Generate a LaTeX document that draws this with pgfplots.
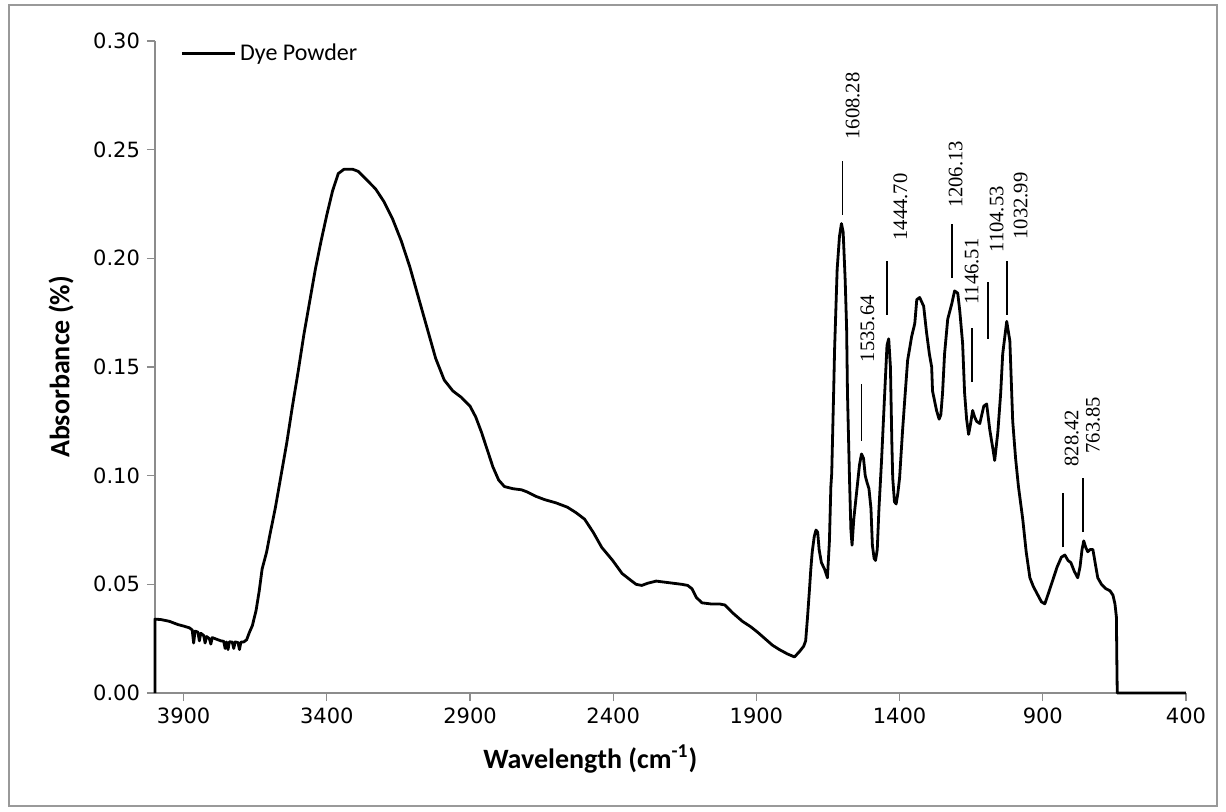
\documentclass[border=0pt]{standalone}
\usepackage{fontspec}
\usepackage{pgfplots}
\pgfplotsset{compat=1.18}
\setmainfont{Carlito}
\newfontfamily\verd{DejaVu Sans}
\newfontfamily\cali{Carlito}
\newfontfamily\tnr{Liberation Serif}

\pgfplotstableread{
x y
4000 0
4000 0.0340
3980 0.0338
3950 0.0330
3920 0.0315
3900 0.0308
3880 0.0300
3870 0.0290
3865 0.0230
3860 0.0285
3850 0.0280
3845 0.0240
3840 0.0275
3830 0.0265
3825 0.0230
3820 0.0260
3810 0.0250
3805 0.0225
3800 0.0255
3790 0.0250
3780 0.0245
3770 0.0240
3760 0.0238
3755 0.0205
3750 0.0235
3745 0.0200
3740 0.0236
3730 0.0234
3725 0.0205
3720 0.0235
3710 0.0232
3705 0.0200
3700 0.0234
3690 0.0235
3680 0.0245
3670 0.0280
3660 0.0310
3647 0.0380
3636 0.0470
3626 0.0570
3610 0.0650
3600 0.0720
3580 0.0850
3560 0.1000
3540 0.1150
3520 0.1320
3500 0.1480
3480 0.1650
3460 0.1800
3440 0.1950
3420 0.2080
3400 0.2200
3380 0.2310
3360 0.2390
3340 0.2410
3310 0.2410
3290 0.2400
3260 0.2360
3230 0.2320
3200 0.2260
3170 0.2180
3140 0.2080
3110 0.1960
3080 0.1820
3050 0.1680
3020 0.1540
2990 0.1440
2960 0.1390
2930 0.1360
2900 0.1320
2880 0.1270
2860 0.1200
2840 0.1120
2820 0.1040
2800 0.0980
2780 0.0950
2750 0.0940
2720 0.0935
2700 0.0925
2670 0.0905
2640 0.0890
2600 0.0875
2560 0.0855
2530 0.0830
2500 0.0800
2470 0.0740
2440 0.0670
2402 0.0610
2369 0.0550
2340 0.0520
2320 0.0500
2300 0.0495
2280 0.0505
2250 0.0515
2220 0.0510
2190 0.0505
2160 0.0500
2140 0.0495
2125 0.0480
2110 0.0440
2090 0.0415
2060 0.0410
2030 0.0410
2010 0.0405
1984 0.0370
1949 0.0330
1920 0.0305
1896 0.0280
1870 0.0250
1844 0.0220
1820 0.0200
1792 0.0180
1767 0.0166
1750 0.0190
1735 0.0215
1728 0.0240
1722 0.0340
1715 0.0470
1710 0.0570
1705 0.0650
1698 0.0720
1692 0.0750
1686 0.0740
1681 0.0660
1673 0.0600
1662 0.0570
1652 0.0530
1645 0.0700
1640 0.0950
1637 0.1010
1630 0.1400
1627 0.1580
1618 0.1950
1610 0.2100
1603 0.2160
1597 0.2120
1590 0.1900
1585 0.1680
1582 0.1380
1575 0.0990
1570 0.0750
1566 0.0680
1560 0.0800
1548 0.0950
1540 0.1050
1533 0.1100
1526 0.1080
1520 0.1000
1514 0.0970
1507 0.0940
1500 0.0850
1495 0.0680
1489 0.0620
1484 0.0610
1478 0.0660
1472 0.0850
1463 0.1070
1452 0.1380
1444 0.1600
1438 0.1630
1432 0.1500
1427 0.1150
1424 0.0990
1418 0.0880
1412 0.0870
1406 0.0920
1400 0.0990
1390 0.1200
1382 0.1350
1372 0.1530
1358 0.1640
1347 0.1700
1340 0.1810
1330 0.1820
1316 0.1780
1306 0.1660
1296 0.1560
1288 0.1500
1285 0.1390
1271 0.1300
1262 0.1260
1256 0.1280
1250 0.1380
1243 0.1560
1232 0.1720
1218 0.1790
1208 0.1850
1197 0.1840
1190 0.1760
1180 0.1610
1173 0.1380
1166 0.1260
1159 0.1190
1152 0.1240
1145 0.1300
1138 0.1270
1131 0.1250
1120 0.1240
1106 0.1320
1096 0.1330
1085 0.1210
1075 0.1130
1068 0.1070
1057 0.1200
1047 0.1380
1040 0.1560
1026 0.1710
1015 0.1620
1005 0.1250
995 0.1080
985 0.0950
970 0.0800
958 0.0650
945 0.0530
933 0.0490
921 0.0460
905 0.0420
893 0.0410
880 0.0460
865 0.0520
850 0.0580
835 0.0625
823 0.0635
812 0.0610
802 0.0600
790 0.0560
778 0.0530
770 0.0580
763 0.0660
757 0.0700
750 0.0670
743 0.0650
735 0.0660
725 0.0660
716 0.0590
708 0.0530
695 0.0500
680 0.0480
665 0.0470
655 0.0450
648 0.0410
643 0.0350
641 0.0100
640 0
400 0
}\spectrum

\begin{document}
\begin{tikzpicture}[x=1pt,y=1pt]
\path[use as bounding box] (-77.5,-59) rectangle (535.5,346.5);
\draw[black!40, line width=0.9pt] (-73,-56.5) rectangle (531,344);
\begin{axis}[
  at={(0,0)}, anchor=south west,
  width=515.5pt, height=326pt, scale only axis,
  xmin=400, xmax=4000, x dir=reverse,
  ymin=0, ymax=0.30,
  clip=false,
  axis x line*=bottom, axis y line*=left,
  axis line style={black!45, line width=0.6pt, -},
  tick style={black!45, line width=0.6pt},
  tick align=outside, major tick length=4pt,
  xtick={400,900,1400,1900,2400,2900,3400,3900},
  ytick={0,0.05,0.10,0.15,0.20,0.25,0.30},
  /pgf/number format/assume math mode=true,
  x tick label style={font=\verd\fontsize{10.5}{12}\selectfont, /pgf/number format/1000 sep={}},
  y tick label style={font=\verd\fontsize{10.5}{12}\selectfont, /pgf/number format/fixed, /pgf/number format/fixed zerofill, /pgf/number format/precision=2},
  xlabel={Wavelength (cm\textsuperscript{-1})},
  ylabel={Absorbance (\%)},
  every axis x label/.style={at={([yshift=-33pt]axis cs:2480,0)}, anchor=center, font=\cali\bfseries\fontsize{14}{16}\selectfont},
  every axis y label/.style={at={([xshift=-47pt]rel axis cs:0,0.5)}, anchor=center, rotate=90, font=\cali\bfseries\fontsize{14}{16}\selectfont},
  legend style={at={(rel axis cs:0,1)}, anchor=north west, draw=none, fill=none, xshift=12.5pt, yshift=1pt,
    font=\cali\fontsize{12}{14}\selectfont, inner sep=0pt},
  legend image code/.code={\draw[black, line width=1.4pt] (0pt,0pt) -- (26.5pt,0pt);},
]
\addplot[black, line width=1.4pt, line join=round] table[x=x, y=y] {\spectrum};
\addlegendentry{Dye Powder}
\begin{scope}[line width=0.8pt]
\draw (axis cs:1600,0.220) -- (axis cs:1600,0.245);
\draw (axis cs:1533,0.116) -- (axis cs:1533,0.142);
\draw (axis cs:1445,0.174) -- (axis cs:1445,0.199);
\draw (axis cs:1218,0.191) -- (axis cs:1218,0.216);
\draw (axis cs:1148,0.143) -- (axis cs:1148,0.168);
\draw (axis cs:1092,0.163) -- (axis cs:1092,0.189);
\draw (axis cs:1026,0.174) -- (axis cs:1026,0.199);
\draw (axis cs:830,0.067) -- (axis cs:830,0.092);
\draw (axis cs:760,0.074) -- (axis cs:760,0.099);
\end{scope}
\begin{scope}[every node/.style={rotate=90, anchor=west, inner sep=0pt, font=\tnr\fontsize{10.3}{12}\selectfont}]
\node at (axis cs:1564,0.2545) {1608.28};
\node at (axis cs:1512,0.152) {1535.64};
\node at (axis cs:1397,0.208) {1444.70};
\node at (axis cs:1204,0.223) {1206.13};
\node at (axis cs:1148,0.1785) {1146.51};
\node at (axis cs:1061,0.2025) {1104.53};
\node at (axis cs:977,0.2085) {1032.99};
\node at (axis cs:799,0.104) {828.42};
\node at (axis cs:725,0.110) {763.85};
\end{scope}
\end{axis}
\end{tikzpicture}
\end{document}
